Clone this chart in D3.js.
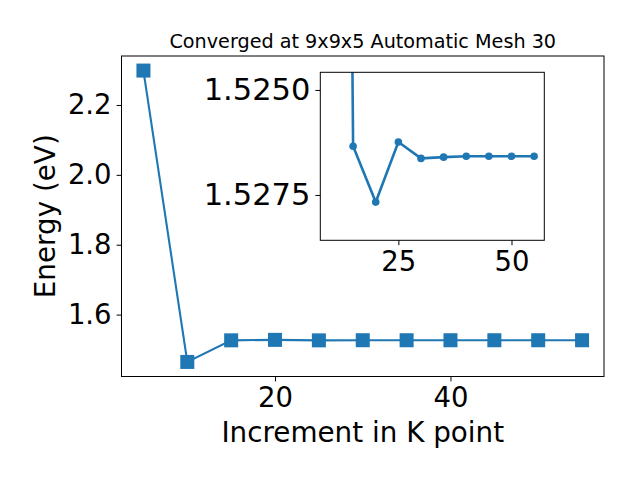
<!DOCTYPE html>
<html><head><meta charset="utf-8">
<script src="https://cdn.jsdelivr.net/npm/d3@7"></script>
<style>
body{margin:0;background:#fff;}
svg{display:block;font-family:"DejaVu Sans",sans-serif;}
</style></head>
<body><svg id="chart" width="640" height="480"></svg>
<script>
const kpoints = [5, 10, 15, 20, 25, 30, 35, 40, 45, 50, 55];
const energies = [2.2985, 1.4645, 1.52634, 1.52767, 1.52624, 1.52663, 1.52660, 1.52658, 1.52658, 1.52658, 1.52658];
const mainXTicks = [20, 40];
const mainYTicks = [1.6, 1.8, 2.0, 2.2];
const insetXTicks = [25, 50];
const insetYTicks = [1.5250, 1.5275];
const titleText = "Converged at 9x9x5 Automatic Mesh 30";
const xLabel = "Increment in K point";
const yLabel = "Energy (eV)";

const color = "#1f77b4";
const svg = d3.select("#chart");

// main axes
const M = {l:121.5, r:604, t:56, b:376.5};
const xMin = d3.min(kpoints), xMax = d3.max(kpoints);
const xPad = (xMax - xMin) * 0.05;
const yMin = d3.min(energies), yMax = d3.max(energies);
const yPad = (yMax - yMin) * 0.05;
const x = d3.scaleLinear().domain([xMin - xPad, xMax + xPad]).range([M.l, M.r]);
const y = d3.scaleLinear().domain([yMin - yPad, yMax + yPad]).range([M.b, M.t]);

const tickFont = 27.5;

function styleAxis(g, size) {
  g.select(".domain").remove();
  g.selectAll(".tick line").attr("stroke", "#000").attr("stroke-width", 1);
  g.selectAll(".tick text").attr("fill", "#000").style("font-size", size + "px").style("font-family", "DejaVu Sans");
}

const gx = svg.append("g").attr("transform", `translate(0,${M.b})`)
  .call(d3.axisBottom(x).tickValues(mainXTicks).tickSize(4.9).tickPadding(6).tickFormat(d3.format("d")));
const gy = svg.append("g").attr("transform", `translate(${M.l},0)`)
  .call(d3.axisLeft(y).tickValues(mainYTicks).tickSize(4.9).tickPadding(5).tickFormat(d3.format(".1f")));
styleAxis(gx, tickFont);
styleAxis(gy, tickFont);

svg.append("rect").attr("x", M.l).attr("y", M.t).attr("width", M.r - M.l).attr("height", M.b - M.t)
  .attr("fill", "none").attr("stroke", "#000").attr("stroke-width", 1);

const mainData = kpoints.map((k, i) => ({k, e: energies[i]}));
svg.append("path").datum(mainData)
  .attr("fill", "none").attr("stroke", color).attr("stroke-width", 2.1)
  .attr("d", d3.line().x(d => x(d.k)).y(d => y(d.e)));
const ms = 14;
svg.append("g").selectAll("rect").data(mainData).join("rect")
  .attr("x", d => x(d.k) - ms/2).attr("y", d => y(d.e) - ms/2)
  .attr("width", ms).attr("height", ms).attr("fill", color);

// title & labels
svg.append("text").attr("x", (M.l + M.r)/2).attr("y", 47.5).attr("text-anchor", "middle")
  .style("font-size", "19.2px").text(titleText);
svg.append("text").attr("x", (M.l + M.r)/2).attr("y", 441.5).attr("text-anchor", "middle")
  .style("font-size", "27.8px").text(xLabel);
svg.append("text").attr("transform", `translate(55,${(M.t + M.b)/2}) rotate(-90)`).attr("text-anchor", "middle")
  .style("font-size", "27.8px").text(yLabel);

// inset
const I = {l:320.3, r:544.3, t:72.3, b:240.3};
const insetK = kpoints.slice(1), insetE = energies.slice(1);
const ixMin = d3.min(insetK), ixMax = d3.max(insetK);
const ixPad = (ixMax - ixMin) * 0.05;
const ix = d3.scaleLinear().domain([ixMin - ixPad, ixMax + ixPad]).range([I.l, I.r]);
const iy = d3.scaleLinear().domain([1.52458, 1.52858]).range([I.t, I.b]);

svg.append("rect").attr("x", I.l).attr("y", I.t).attr("width", I.r - I.l).attr("height", I.b - I.t)
  .attr("fill", "#fff");
svg.append("clipPath").attr("id", "iclip").append("rect")
  .attr("x", I.l).attr("y", I.t).attr("width", I.r - I.l).attr("height", I.b - I.t);

const igx = svg.append("g").attr("transform", `translate(0,${I.b})`)
  .call(d3.axisBottom(ix).tickValues(insetXTicks).tickSize(4.9).tickPadding(6).tickFormat(d3.format("d")));
const igy = svg.append("g").attr("transform", `translate(${I.l},0)`)
  .call(d3.axisLeft(iy).tickValues(insetYTicks).tickSize(4.9).tickPadding(5).tickFormat(d3.format(".4f")));
styleAxis(igx, tickFont);
styleAxis(igy, 30.5);

const insetData = insetK.map((k, i) => ({k, e: insetE[i]}));
const ig = svg.append("g").attr("clip-path", "url(#iclip)");
ig.append("path").datum(insetData)
  .attr("fill", "none").attr("stroke", color).attr("stroke-width", 2.6)
  .attr("d", d3.line().x(d => ix(d.k)).y(d => iy(d.e)));
ig.selectAll("circle").data(insetData).join("circle")
  .attr("cx", d => ix(d.k)).attr("cy", d => iy(d.e)).attr("r", 3.8).attr("fill", color);

svg.append("rect").attr("x", I.l).attr("y", I.t).attr("width", I.r - I.l).attr("height", I.b - I.t)
  .attr("fill", "none").attr("stroke", "#000").attr("stroke-width", 1);
</script></body></html>
